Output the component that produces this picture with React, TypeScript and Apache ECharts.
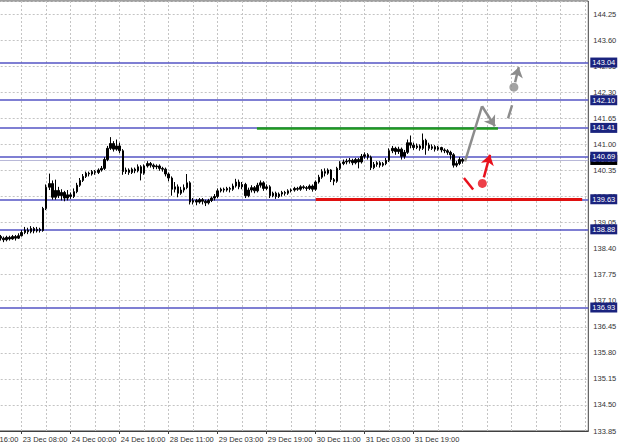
import React, { useEffect, useRef } from "react";
import * as echarts from "echarts";

// ---- axis texts ----
const tickLabels = [
  "22 Dec 16:00", "23 Dec 08:00", "24 Dec 00:00", "24 Dec 16:00", "28 Dec 11:00",
  "29 Dec 03:00", "29 Dec 19:00", "30 Dec 11:00", "31 Dec 03:00", "31 Dec 19:00",
];
const slotCount = 202; // hourly slots across the plot (incl. chart shift area)
const barStartIndex = 9; // slot of first visible bar
const labelEvery = 16;
const gridEvery = 8;

// ---- H1 bars ----
const opens = [
  138.70,138.66,138.62,138.68,138.64,138.70,138.66,138.72,138.80,138.86,
  138.82,138.90,138.84,138.88,138.85,139.40,139.93,140.02,139.68,139.85,
  139.72,139.80,139.66,139.74,139.70,139.82,139.98,140.10,140.20,140.28,
  140.26,140.32,140.30,140.36,140.40,140.62,140.90,141.02,140.88,140.96,
  140.84,140.32,140.36,140.30,140.38,140.34,140.44,140.28,140.46,140.52,
  140.48,140.44,140.46,140.40,140.38,140.26,140.16,139.88,139.94,139.78,
  139.86,139.92,140.04,139.56,139.60,139.56,139.62,139.58,139.54,139.60,
  139.66,139.70,139.84,139.88,139.86,139.90,139.88,139.96,140.06,139.94,
  140.00,139.72,139.86,139.92,139.84,139.98,140.04,139.90,139.94,139.72,
  139.78,139.70,139.76,139.80,139.78,139.84,139.86,139.90,139.88,139.94,
  139.92,139.90,139.96,139.88,140.06,140.18,140.32,140.28,140.36,140.12,
  140.08,140.40,140.52,140.56,140.58,140.60,140.54,140.62,140.56,140.70,
  140.74,140.68,140.42,140.50,140.54,140.48,140.52,140.60,140.84,140.90,
  140.82,140.88,140.70,140.80,141.04,140.98,140.92,140.96,140.90,141.10,
  140.98,140.90,140.94,140.88,140.92,140.86,140.84,140.80,140.74,140.48,
  140.52,140.62,
];
const closes = [
  138.66,138.62,138.68,138.64,138.70,138.66,138.72,138.80,138.86,138.82,
  138.90,138.84,138.88,138.85,139.40,139.93,140.02,139.68,139.85,139.72,
  139.80,139.66,139.74,139.70,139.82,139.98,140.10,140.20,140.28,140.26,
  140.32,140.30,140.36,140.40,140.62,140.90,141.02,140.88,140.96,140.84,
  140.32,140.36,140.30,140.38,140.34,140.44,140.28,140.46,140.52,140.48,
  140.44,140.46,140.40,140.38,140.26,140.16,139.88,139.94,139.78,139.86,
  139.92,140.04,139.56,139.60,139.56,139.62,139.58,139.54,139.60,139.66,
  139.70,139.84,139.88,139.86,139.90,139.88,139.96,140.06,139.94,140.00,
  139.72,139.86,139.92,139.84,139.98,140.04,139.90,139.94,139.72,139.78,
  139.70,139.76,139.80,139.78,139.84,139.86,139.90,139.88,139.94,139.92,
  139.90,139.96,139.88,140.06,140.18,140.32,140.28,140.36,140.12,140.08,
  140.40,140.52,140.56,140.58,140.60,140.54,140.62,140.56,140.70,140.74,
  140.68,140.42,140.50,140.54,140.48,140.52,140.60,140.84,140.90,140.82,
  140.88,140.70,140.80,141.04,140.98,140.92,140.96,140.90,141.10,140.98,
  140.90,140.94,140.88,140.92,140.86,140.84,140.80,140.74,140.48,140.52,
  140.62,140.58,
];
const lows = [
  138.60,138.56,138.58,138.60,138.62,138.60,138.64,138.70,138.76,138.76,
  138.78,138.78,138.80,138.80,138.82,139.36,139.86,139.62,139.62,139.66,
  139.60,139.58,139.60,139.64,139.66,139.78,139.94,140.06,140.16,140.20,
  140.22,140.24,140.26,140.32,140.36,140.58,140.86,140.82,140.84,140.78,
  140.24,140.26,140.24,140.26,140.28,140.30,140.10,140.24,140.42,140.42,
  140.38,140.38,140.34,140.32,140.20,140.08,139.72,139.80,139.68,139.74,
  139.80,139.88,139.50,139.50,139.48,139.52,139.50,139.46,139.50,139.56,
  139.60,139.66,139.80,139.80,139.82,139.80,139.84,139.92,139.88,139.88,
  139.66,139.68,139.80,139.78,139.80,139.92,139.84,139.86,139.66,139.68,
  139.64,139.66,139.70,139.72,139.74,139.80,139.82,139.84,139.84,139.88,
  139.84,139.86,139.82,139.84,140.02,140.14,140.20,140.24,140.06,139.98,
  140.04,140.36,140.48,140.50,140.52,140.48,140.50,140.40,140.52,140.64,
  140.62,140.36,140.38,140.44,140.42,140.44,140.48,140.56,140.78,140.74,
  140.76,140.62,140.64,140.76,140.90,140.86,140.88,140.84,140.86,140.74,
  140.84,140.86,140.82,140.84,140.80,140.78,140.74,140.62,140.42,140.43,
  140.48,140.52,
];
const highs = [
  138.74,138.70,138.72,138.72,138.74,138.74,138.78,138.86,138.94,138.92,
  138.96,138.94,138.94,138.92,139.44,140.00,140.27,140.10,140.12,139.94,
  139.88,139.84,139.86,139.80,139.90,140.04,140.16,140.26,140.32,140.32,
  140.36,140.36,140.40,140.46,140.68,140.96,141.18,141.08,141.12,141.04,
  140.88,140.42,140.40,140.42,140.42,140.50,140.48,140.50,140.58,140.56,
  140.52,140.50,140.50,140.44,140.42,140.30,140.20,140.06,140.00,139.94,
  140.00,140.26,140.08,139.66,139.64,139.66,139.66,139.62,139.64,139.70,
  139.76,139.90,139.92,139.92,139.94,139.94,140.02,140.14,140.12,140.06,
  140.04,139.92,139.98,139.96,140.04,140.10,140.08,140.00,139.98,139.82,
  139.82,139.80,139.84,139.84,139.88,139.90,139.94,139.94,139.98,139.98,
  139.96,140.00,140.00,140.10,140.24,140.38,140.40,140.40,140.38,140.16,
  140.44,140.58,140.62,140.64,140.66,140.64,140.66,140.66,140.76,140.80,
  140.78,140.72,140.56,140.58,140.58,140.56,140.66,140.90,140.96,140.94,
  140.94,140.92,140.86,141.12,141.22,141.04,141.02,141.00,141.27,141.14,
  141.04,141.00,140.98,140.96,140.94,140.90,140.88,140.84,140.78,140.58,
  140.68,140.66,
];

// ---- horizontal levels ----
const levels = [143.04, 142.10, 141.41, 140.69, 139.63, 138.88, 136.93];
const bidPrice = 140.61;

// ---- annotations (slot index, price) ----
const greenLine = [[92.8, 141.41], [171.5, 141.41]];
const redLine = [[112.0, 139.63], [199.0, 139.63]];
const grayUp = [[160.75, 140.575], [166.3, 141.95]];
const grayDown = [[166.3, 141.95], [170.5, 141.45]];
const grayDash = [[174.8, 141.65], [176.1, 141.975]];
const grayDot = [176.7, 142.425];
const grayArrow = [[177.1, 142.55], [178.3, 142.925]];
const redDash = [[160.4, 140.16], [163.4, 139.875]];
const redDot = [166.4, 140.025];
const redArrow = [[166.9, 140.175], [168.9, 140.74]];

// y axis: ticks counted from min
const yMin = 133.85;
const yMax = 144.575;
const yStep = 0.65;

const FONT = "Liberation Sans";
const AXIS_COLOR = "#404040";
const GRID_COLOR = "#c4c4c4";
const LEVEL_COLOR = "#5454c4";
const GRAY = "#8c8c8c";
const RED = "#e8101c";

export default function App() {
  const ref = useRef<HTMLDivElement>(null);

  useEffect(() => {
    if (!ref.current) return;
    const chart = echarts.init(ref.current, undefined, { renderer: "svg" });

    const categories: string[] = [];
    for (let i = 0; i < slotCount; i++) {
      const k = i / labelEvery;
      categories.push(i % labelEvery === 0 && k < tickLabels.length ? tickLabels[k] : String(i));
    }
    const isLabel = (i: number) => i % labelEvery === 0 && i / labelEvery < tickLabels.length;

    const candleData: any[] = [];
    for (let i = 0; i < slotCount; i++) {
      const j = i - barStartIndex;
      if (j >= 0 && j < closes.length) {
        candleData.push([opens[j], closes[j], lows[j], highs[j]]);
      } else {
        candleData.push("-");
      }
    }

    const seg = (s: number[][], color: string, width: number, arrow: boolean) => ({
      coords: s,
      lineStyle: { color, width, type: "solid", opacity: 1, curveness: 0 },
      symbol: arrow ? ["none", "arrow"] : ["none", "none"],
      symbolSize: arrow ? [0, 10] : [0, 0],
    });

    const levelLabel = (text: string, bg: string) => ({
      show: true,
      position: "end",
      distance: 2,
      formatter: text,
      backgroundColor: bg,
      color: "#ffffff",
      fontSize: 7.5,
      fontFamily: FONT,
      padding: [1, 2, 1, 2],
    });

    // full-width horizontal level: from first to last slot
    const fullWidth = (p: number, color: string, bg: string, width: number) => ({
      coords: [[0, p], [slotCount - 1, p]],
      lineStyle: { color, width, type: "solid", opacity: 1, curveness: 0 },
      symbol: ["none", "none"],
      symbolSize: [0, 0],
      label: levelLabel(p.toFixed(2), bg),
    });

    const option: any = {
      animation: false,
      backgroundColor: "#ffffff",
      grid: {
        left: -27.3,
        right: 31.7,
        top: 1,
        bottom: 17,
        containLabel: false,
        outerBoundsMode: "none",
        show: true,
        borderColor: AXIS_COLOR,
        borderWidth: 1,
      },
      xAxis: [
        {
          type: "category",
          data: categories,
          boundaryGap: false,
          axisLine: { show: true, onZero: false, lineStyle: { color: AXIS_COLOR, width: 1 } },
          axisTick: {
            show: true,
            length: 3,
            interval: (i: number) => isLabel(i),
            lineStyle: { color: AXIS_COLOR },
          },
          axisLabel: {
            show: true,
            interval: (i: number) => isLabel(i),
            align: "left",
            margin: 4,
            fontSize: 7.5,
            fontFamily: FONT,
            color: "#333333",
            padding: [0, 0, 0, 1],
          },
          splitLine: {
            show: true,
            interval: (i: number) => i % gridEvery === 0,
            lineStyle: { color: GRID_COLOR, type: [2, 2], width: 1 },
          },
        },
        {
          type: "value",
          min: 0,
          max: slotCount - 1,
          show: false,
          splitLine: { show: false },
        },
      ],
      yAxis: {
        type: "value",
        position: "right",
        min: yMin,
        max: yMax,
        interval: yStep,
        axisLine: { show: true, lineStyle: { color: AXIS_COLOR, width: 1 } },
        axisTick: { show: true, length: 3, lineStyle: { color: AXIS_COLOR } },
        axisLabel: {
          show: true,
          margin: 5,
          fontSize: 7.5,
          fontFamily: FONT,
          color: "#333333",
          showMinLabel: true,
          showMaxLabel: false,
          formatter: (v: number) => v.toFixed(2),
        },
        splitLine: { show: true, lineStyle: { color: GRID_COLOR, type: [2, 2], width: 1 } },
      },
      series: [
        {
          type: "lines",
          name: "levels",
          coordinateSystem: "cartesian2d",
          xAxisIndex: 1,
          yAxisIndex: 0,
          silent: true,
          polyline: false,
          clip: false,
          z: 2,
          effect: { show: false },
          data: [
            fullWidth(bidPrice, "#b8b8d8", "#000000", 1),
            ...levels.map((p) => fullWidth(p, LEVEL_COLOR, "#1a237e", 1.5)),
          ],
        },
        {
          type: "candlestick",
          xAxisIndex: 0,
          yAxisIndex: 0,
          data: candleData,
          barWidth: 2,
          itemStyle: {
            color: "#000000",
            color0: "#000000",
            borderColor: "#000000",
            borderColor0: "#000000",
            borderWidth: 1,
          },
          z: 3,
        },
        {
          type: "lines",
          coordinateSystem: "cartesian2d",
          xAxisIndex: 1,
          yAxisIndex: 0,
          silent: true,
          polyline: false,
          z: 5,
          effect: { show: false },
          data: [
            seg(greenLine, "#1f9a1f", 2.5, false),
            seg(redLine, "#e01010", 3, false),
            seg(grayUp, GRAY, 2.5, false),
            seg(grayDown, GRAY, 2.5, true),
            seg(grayDash, GRAY, 2.5, false),
            seg(grayArrow, GRAY, 2.5, true),
            seg(redDash, RED, 2.5, false),
            seg(redArrow, RED, 2.5, true),
          ],
        },
        {
          type: "scatter",
          xAxisIndex: 1,
          yAxisIndex: 0,
          silent: true,
          symbol: "circle",
          symbolSize: 9,
          z: 6,
          data: [
            { value: grayDot, itemStyle: { color: GRAY } },
            { value: redDot, itemStyle: { color: RED } },
          ],
        },
      ],
    };

    chart.setOption(option);
    return () => chart.dispose();
  }, []);

  return (
    <div
      ref={ref}
      style={{ position: "absolute", left: 0, top: 0, width: 620, height: 448, background: "#ffffff" }}
    />
  );
}
